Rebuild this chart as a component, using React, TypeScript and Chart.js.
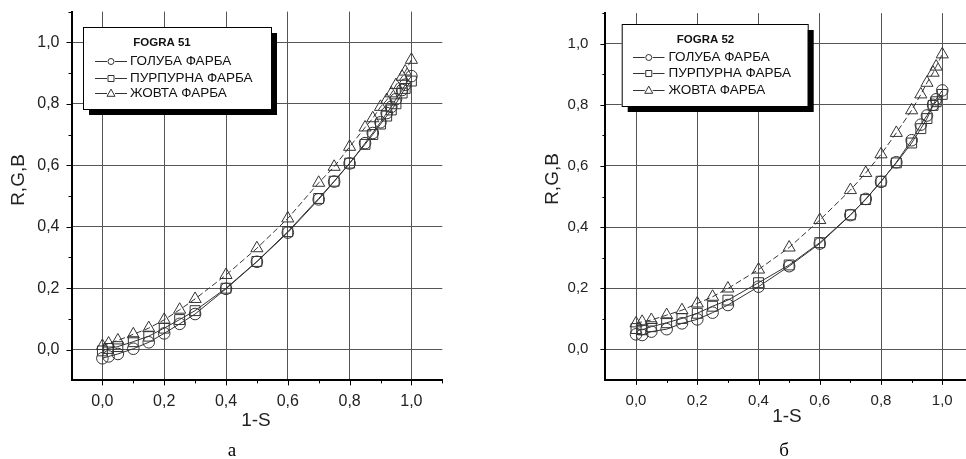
import React, { useEffect, useRef } from 'react';
import { Chart, registerables } from 'chart.js';
Chart.register(...registerables);

// ---------- data ----------
const seriesNames = ['ГОЛУБА ФАРБА', 'ПУРПУРНА ФАРБА', 'ЖОВТА ФАРБА'];
const majorTicks = [0, 0.2, 0.4, 0.6, 0.8, 1.0];

// FOGRA 51 (panel а)
const x51 = [0, 0.02, 0.05, 0.1, 0.15, 0.2, 0.25, 0.3, 0.4, 0.5, 0.6, 0.7, 0.75, 0.8, 0.85, 0.875, 0.9, 0.92, 0.935, 0.95, 0.97, 0.98, 1.0];
const cyan51 = [-0.028, -0.022, -0.014, 0.003, 0.024, 0.053, 0.084, 0.116, 0.198, 0.286, 0.381, 0.489, 0.547, 0.606, 0.672, 0.705, 0.74, 0.77, 0.79, 0.815, 0.845, 0.862, 0.89];
const magenta51 = [-0.004, 0.004, 0.01, 0.026, 0.044, 0.07, 0.098, 0.127, 0.2, 0.287, 0.384, 0.492, 0.548, 0.607, 0.668, 0.7, 0.734, 0.76, 0.78, 0.8, 0.835, 0.85, 0.874];
const yellow51 = [0.012, 0.02, 0.03, 0.05, 0.07, 0.097, 0.13, 0.165, 0.243, 0.33, 0.427, 0.543, 0.595, 0.66, 0.723, 0.753, 0.79, 0.812, 0.834, 0.861, 0.888, 0.905, 0.943];

// FOGRA 52 (panel б)
const x52 = [0, 0.02, 0.05, 0.1, 0.15, 0.2, 0.25, 0.3, 0.4, 0.5, 0.6, 0.7, 0.75, 0.8, 0.85, 0.9, 0.93, 0.95, 0.97, 0.98, 1.0];
const cyan52 = [0.049, 0.047, 0.058, 0.066, 0.085, 0.098, 0.12, 0.145, 0.205, 0.272, 0.346, 0.439, 0.492, 0.548, 0.612, 0.684, 0.735, 0.765, 0.8, 0.818, 0.847];
const magenta52 = [0.068, 0.064, 0.074, 0.087, 0.101, 0.118, 0.141, 0.161, 0.218, 0.276, 0.349, 0.44, 0.49, 0.55, 0.61, 0.675, 0.722, 0.755, 0.798, 0.81, 0.834];
const yellow52 = [0.085, 0.09, 0.096, 0.112, 0.128, 0.15, 0.172, 0.199, 0.261, 0.333, 0.423, 0.521, 0.577, 0.638, 0.708, 0.782, 0.834, 0.872, 0.905, 0.925, 0.965];

const FONT = "'Liberation Sans', Arial, sans-serif";
const SERIF = "'Liberation Serif', 'Times New Roman', serif";

const isMajor = (v: number) => majorTicks.some((m) => Math.abs(m - v) < 1e-6);
const fmt = (v: number) => v.toFixed(1).replace('.', ',');

type PanelCfg = {
  left: number;
  width: number;
  area: { left: number; right: number; top: number; bottom: number };
  tickFont: number;
  yPad: number;
  xPad: number;
  title: string;
  legend: { x: number; y: number; w: number; h: number; titleX: number; titleY: number; rows: number[]; symX0: number; symX1: number; textX: number };
  yTitle: { x: number; y: number };
  xTitle: { x: number; y: number };
  caption: { text: string; x: number; y: number };
  xs: number[];
  ys: number[][];
};

const styles = [
  { pointStyle: 'circle', radius: 5.8, dash: [] as number[] },
  { pointStyle: 'rect', radius: 7, dash: [] as number[] },
  { pointStyle: 'triangle', radius: 7, dash: [6, 3] },
];

const drawMarker = (ctx: CanvasRenderingContext2D, style: string, x: number, y: number, r: number) => {
  ctx.beginPath();
  if (style === 'circle') {
    ctx.arc(x, y, r, 0, Math.PI * 2);
  } else if (style === 'rect') {
    ctx.rect(x - r, y - r, 2 * r, 2 * r);
  } else {
    ctx.moveTo(x, y - r * 1.1);
    ctx.lineTo(x + r, y + r * 0.7);
    ctx.lineTo(x - r, y + r * 0.7);
    ctx.closePath();
  }
  ctx.stroke();
};

const zeroPad = (s: any) => {
  s.paddingTop = 0;
  s.paddingBottom = 0;
  s.paddingLeft = 0;
  s.paddingRight = 0;
};

function Panel({ cfg }: { cfg: PanelCfg }) {
  const ref = useRef<HTMLCanvasElement | null>(null);
  useEffect(() => {
    if (!ref.current) return;
    const H = 459;
    const a = cfg.area;
    const xScaleH = 40;
    const overlay = {
      id: 'overlay',
      afterDraw(chart: any) {
        const ctx: CanvasRenderingContext2D = chart.ctx;
        const ca = chart.chartArea;
        const xs = chart.scales.x;
        const ysc = chart.scales.y;
        ctx.save();
        // ticks
        ctx.strokeStyle = '#000';
        ctx.lineWidth = 1;
        for (let k = 0; k <= 11; k++) {
          const v = k / 10;
          const major = isMajor(v);
          const len = major ? 5 : 3;
          const py = ysc.getPixelForValue(v);
          if (py >= ca.top - 0.5 && py <= ca.bottom + 0.5) {
            ctx.beginPath();
            ctx.moveTo(ca.left - len, Math.round(py) + 0.5);
            ctx.lineTo(ca.left, Math.round(py) + 0.5);
            ctx.stroke();
          }
          const px = xs.getPixelForValue(v);
          if (px >= ca.left - 0.5 && px <= ca.right + 0.5) {
            ctx.beginPath();
            ctx.moveTo(Math.round(px) + 0.5, ca.bottom);
            ctx.lineTo(Math.round(px) + 0.5, ca.bottom + len);
            ctx.stroke();
          }
        }
        // axis titles
        ctx.fillStyle = '#222';
        ctx.font = `19px ${FONT}`;
        ctx.textAlign = 'center';
        ctx.textBaseline = 'middle';
        ctx.fillText('1-S', cfg.xTitle.x, cfg.xTitle.y);
        ctx.save();
        ctx.translate(cfg.yTitle.x, cfg.yTitle.y);
        ctx.rotate(-Math.PI / 2);
        ctx.fillText('R,G,B', 0, 0);
        ctx.restore();
        // caption
        ctx.fillStyle = '#000';
        ctx.font = `19px ${SERIF}`;
        ctx.textBaseline = 'alphabetic';
        ctx.fillText(cfg.caption.text, cfg.caption.x, cfg.caption.y);
        // legend box
        const L = cfg.legend;
        ctx.fillStyle = '#000';
        ctx.fillRect(L.x + 6, L.y + 6, L.w, L.h);
        ctx.fillStyle = '#fff';
        ctx.fillRect(L.x, L.y, L.w, L.h);
        ctx.strokeStyle = '#000';
        ctx.lineWidth = 1;
        ctx.strokeRect(L.x + 0.5, L.y + 0.5, L.w, L.h);
        ctx.fillStyle = '#111';
        ctx.font = `bold 11.5px ${FONT}`;
        ctx.textAlign = 'center';
        ctx.textBaseline = 'middle';
        ctx.fillText(cfg.title, L.titleX, L.titleY);
        ctx.font = `13.5px ${FONT}`;
        ctx.textAlign = 'left';
        seriesNames.forEach((name, i) => {
          const yy = Math.round(L.rows[i]) + 0.5;
          const mx = (L.symX0 + L.symX1) / 2;
          ctx.strokeStyle = '#333';
          ctx.lineWidth = 1;
          ctx.beginPath();
          ctx.moveTo(L.symX0, yy);
          ctx.lineTo(mx - 4, yy);
          ctx.moveTo(mx + 4, yy);
          ctx.lineTo(L.symX1, yy);
          ctx.stroke();
          drawMarker(ctx, styles[i].pointStyle, mx, yy, i === 2 ? 4 : 3);
          ctx.fillStyle = '#111';
          ctx.fillText(name, L.textX, L.rows[i] + 0.5);
        });
        ctx.restore();
      },
    };

    const gridColor = (c: any) => (c.tick && isMajor(c.tick.value) ? '#555' : 'rgba(0,0,0,0)');
    const tickCb = (v: any) => (isMajor(Number(v)) ? fmt(Number(v)) : '');

    const chart = new Chart(ref.current, {
      type: 'scatter',
      data: {
        datasets: cfg.ys.map((ys, i) => ({
          label: seriesNames[i],
          data: cfg.xs.map((x, j) => ({ x, y: ys[j] })),
          showLine: true,
          borderColor: '#333',
          borderWidth: 1,
          borderDash: styles[i].dash,
          pointStyle: styles[i].pointStyle as any,
          pointRadius: styles[i].radius,
          pointBorderColor: '#333',
          pointBorderWidth: 1,
          pointBackgroundColor: 'rgba(0,0,0,0)',
        })),
      },
      options: {
        animation: false,
        responsive: false,
        devicePixelRatio: 1,
        layout: {
          padding: {
            left: 0,
            right: cfg.width - a.right,
            top: a.top,
            bottom: H - a.bottom - xScaleH,
          },
        },
        plugins: { legend: { display: false }, tooltip: { enabled: false } },
        scales: {
          x: {
            type: 'linear',
            min: -0.1,
            max: 1.1,
            afterFit: (s: any) => {
              s.height = xScaleH;
              zeroPad(s);
            },
            ticks: {
              stepSize: 0.1,
              autoSkip: false,
              maxRotation: 0,
              includeBounds: false,
              callback: tickCb,
              color: '#222',
              padding: cfg.xPad,
              font: { family: FONT, size: cfg.tickFont },
            },
            grid: { color: gridColor, lineWidth: 1, drawTicks: false },
            border: { color: '#000', width: 2 },
          },
          y: {
            type: 'linear',
            min: -0.1,
            max: 1.1,
            afterFit: (s: any) => {
              s.width = a.left;
              zeroPad(s);
            },
            ticks: {
              stepSize: 0.1,
              autoSkip: false,
              includeBounds: false,
              callback: tickCb,
              color: '#222',
              padding: cfg.yPad,
              font: { family: FONT, size: cfg.tickFont },
            },
            grid: { color: gridColor, lineWidth: 1, drawTicks: false },
            border: { color: '#000', width: 2 },
          },
        },
      },
      plugins: [overlay],
    } as any);
    return () => chart.destroy();
  }, [cfg]);
  return (
    <canvas
      ref={ref}
      width={cfg.width}
      height={459}
      style={{ position: 'absolute', left: cfg.left, top: 0, width: cfg.width, height: 459 }}
    />
  );
}

const panelA: PanelCfg = {
  left: 0,
  width: 483,
  area: { left: 71.5, right: 442.3, top: 11.6, bottom: 380.4 },
  tickFont: 16,
  yPad: 12,
  xPad: 12,
  title: 'FOGRA 51',
  legend: { x: 83, y: 27, w: 188, h: 82, titleX: 162, titleY: 43, rows: [61, 77.5, 93], symX0: 95, symX1: 127, textX: 130 },
  yTitle: { x: 19, y: 180 },
  xTitle: { x: 256, y: 421 },
  caption: { text: 'а', x: 232, y: 456 },
  xs: x51,
  ys: [cyan51, magenta51, yellow51],
};

const panelB: PanelCfg = {
  left: 483,
  width: 500,
  area: { left: 122.4, right: 489.9, top: 13.1, bottom: 379.9 },
  tickFont: 15,
  yPad: 17,
  xPad: 12,
  title: 'FOGRA 52',
  legend: { x: 621.7 - 483, y: 24, w: 186, h: 82, titleX: 705.5 - 483, titleY: 40, rows: [56.5, 73, 90], symX0: 633 - 483, symX1: 664.5 - 483, textX: 668.5 - 483 },
  yTitle: { x: 553 - 483, y: 179 },
  xTitle: { x: 787 - 483, y: 417 },
  caption: { text: 'б', x: 784 - 483, y: 456 },
  xs: x52,
  ys: [cyan52, magenta52, yellow52],
};

export default function App() {
  return (
    <div style={{ position: 'absolute', left: 0, top: 0, width: 966, height: 459, overflow: 'hidden', background: '#fff' }}>
      <Panel cfg={panelA} />
      <Panel cfg={panelB} />
    </div>
  );
}
